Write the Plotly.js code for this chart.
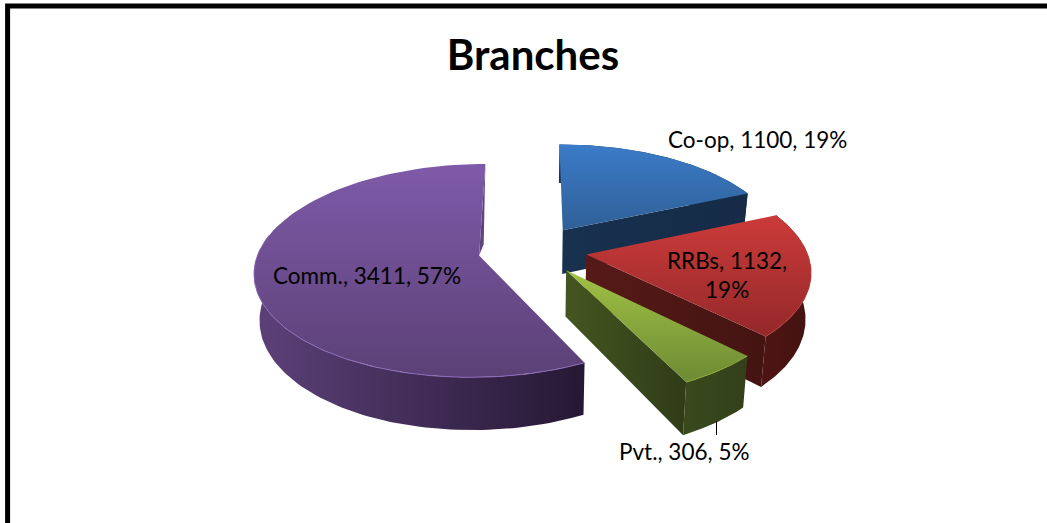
<!DOCTYPE html>
<html>
<head>
<meta charset="utf-8">
<script src="https://cdn.plot.ly/plotly-3.0.1.min.js"></script>
<style>html,body{margin:0;padding:0;background:#fff;overflow:hidden}#c{width:1047px;height:523px}</style>
</head>
<body>
<div id="c"></div>
<script>
const categories = ['Co-op', 'RRBs', 'Pvt.', 'Comm.'];
const values = [1100, 1132, 306, 3411];
const percentLabels = ['19%', '19%', '5%', '57%'];
const chartTitle = 'Branches';

const topColors = [['#2f6097', '#3b7bc8'], ['#94282a', '#cb3b39'], ['#6e8a33', '#a0c245'], ['#5b4176', '#7f5aa9']];
const arcWallColors = [['#1a3558', '#142a47'], ['#4e1614', '#421211'], ['#394a1c', '#33401a'], ['#5c4179', '#261834']];
const cutWallColors = [['#18314f', '#152b47'], ['#561a17', '#441412'], ['#445620', '#2f3c17'], ['#5f447f', '#5f447f']];
const rimHighlight = [null, '#b5403c', '#8da63d', '#8c6ab8'];
const wedgeNudge = [0, 0, 0, -5];

// projection of the tilted, exploded pie
const P = { cx: 535, cy: 250, rx: 220, ry: 103, persp: 0.14, explode: 0.236, depth: 45, narrow: 0.98 };

function project(X, V, low, nudge) {
  const s = 1 / (1 + P.persp * V);
  let x = P.cx + X * s * P.rx;
  let y = P.cy - V * s * P.ry;
  if (low) { x = P.cx + (x - P.cx) * P.narrow; y += P.depth * s; }
  return [x + (nudge || 0), y];
}
function polar(w, theta, r, low) {
  return project(P.explode * Math.sin(w.mid) + r * Math.sin(theta), P.explode * Math.cos(w.mid) + r * Math.cos(theta), low, wedgeNudge[w.i]);
}
function poly(pts, colors, type) {
  return {
    type: 'scatter', mode: 'lines', x: pts.map(p => p[0]), y: pts.map(p => p[1]),
    fill: 'toself', line: { width: 0, color: colors[0] }, hoverinfo: 'skip', showlegend: false,
    fillcolor: colors[0],
    fillgradient: { type: type, colorscale: [[0, colors[0]], [1, colors[1]]] }
  };
}
function range(a, b, n) { const o = []; for (let i = 0; i <= n; i++) o.push(a + (b - a) * i / n); return o; }

const total = values.reduce((a, b) => a + b, 0);
let acc = 0;
const wedges = values.map((v, i) => {
  const a = acc / total * 2 * Math.PI; acc += v;
  const b = acc / total * 2 * Math.PI;
  return { i, a, b, mid: (a + b) / 2 };
});

const traces = [];
[0, 1, 3, 2].forEach(k => {
  const w = wedges[k], N = 90;
  const ths = range(w.a, w.b, N);
  const rimB = k === 3 ? w.a + (w.b - w.a) * 0.62 : w.b;
  const rim = range(w.a, rimB, N);
  const rimPts = rim.map(t => polar(w, t, 1, false)).concat(rim.slice().reverse().map(t => polar(w, t, 1, true)));
  traces.push(poly(rimPts, arcWallColors[k], 'horizontal'));
  if (k !== 3) {
    const pts = [polar(w, 0, 0, false), polar(w, w.b, 1, false), polar(w, w.b, 1, true), polar(w, 0, 0, true)];
    traces.push(poly(pts, cutWallColors[k], 'horizontal'));
  } else {
    const sl = [polar(w, 0, 0, false), polar(w, w.b, 1, false), polar(w, w.b, 0.55, true)];
    traces.push(poly(sl, cutWallColors[k], 'horizontal'));
  }
  const top = [polar(w, 0, 0, false)].concat(ths.map(t => polar(w, t, 1, false)));
  traces.push(poly(top, topColors[k], 'vertical'));
  if (rimHighlight[k]) {
    const hl = rim.map(t => polar(w, t, 1, false));
    traces.push({ type: 'scatter', mode: 'lines', x: hl.map(p => p[0]), y: hl.map(p => p[1]), line: { width: 1, color: rimHighlight[k] }, hoverinfo: 'skip', showlegend: false });
  }
});

const labelText = i => categories[i] + ', ' + values[i] + ', ' + percentLabels[i];
const ann = (text, x, y) => ({ text, x, y, xref: 'x', yref: 'y', showarrow: false, xanchor: 'center', yanchor: 'middle', align: 'center',
  font: { family: 'Lato, sans-serif', size: 22.5, color: '#000' } });

const layout = {
  width: 1047, height: 523, margin: { l: 0, r: 0, t: 0, b: 0 }, paper_bgcolor: '#fff', plot_bgcolor: '#fff', showlegend: false,
  xaxis: { range: [0, 1047], visible: false, fixedrange: true },
  yaxis: { range: [523, 0], visible: false, fixedrange: true },
  title: { text: '<b>' + chartTitle + '</b>', x: 0.509, xanchor: 'center', y: 0.895, yanchor: 'middle', font: { family: 'Lato, sans-serif', size: 42, color: '#000' } },
  shapes: [
    { type: 'rect', xref: 'x', yref: 'y', x0: 7.6, y0: 6, x1: 1070, y1: 560, line: { color: '#000', width: 5 }, layer: 'above' },
    { type: 'line', xref: 'x', yref: 'y', x0: 716.5, y0: 421, x1: 716.5, y1: 435, line: { color: '#000', width: 1 }, layer: 'above' }
  ],
  annotations: [
    ann(labelText(0), 757, 139),
    ann(categories[1] + ', ' + values[1] + ',<br>' + percentLabels[1], 727, 275),
    ann(labelText(2), 684, 451),
    ann(labelText(3), 367, 275)
  ]
};
Plotly.newPlot('c', traces, layout, { displayModeBar: false, staticPlot: true });
</script>
</body>
</html>
